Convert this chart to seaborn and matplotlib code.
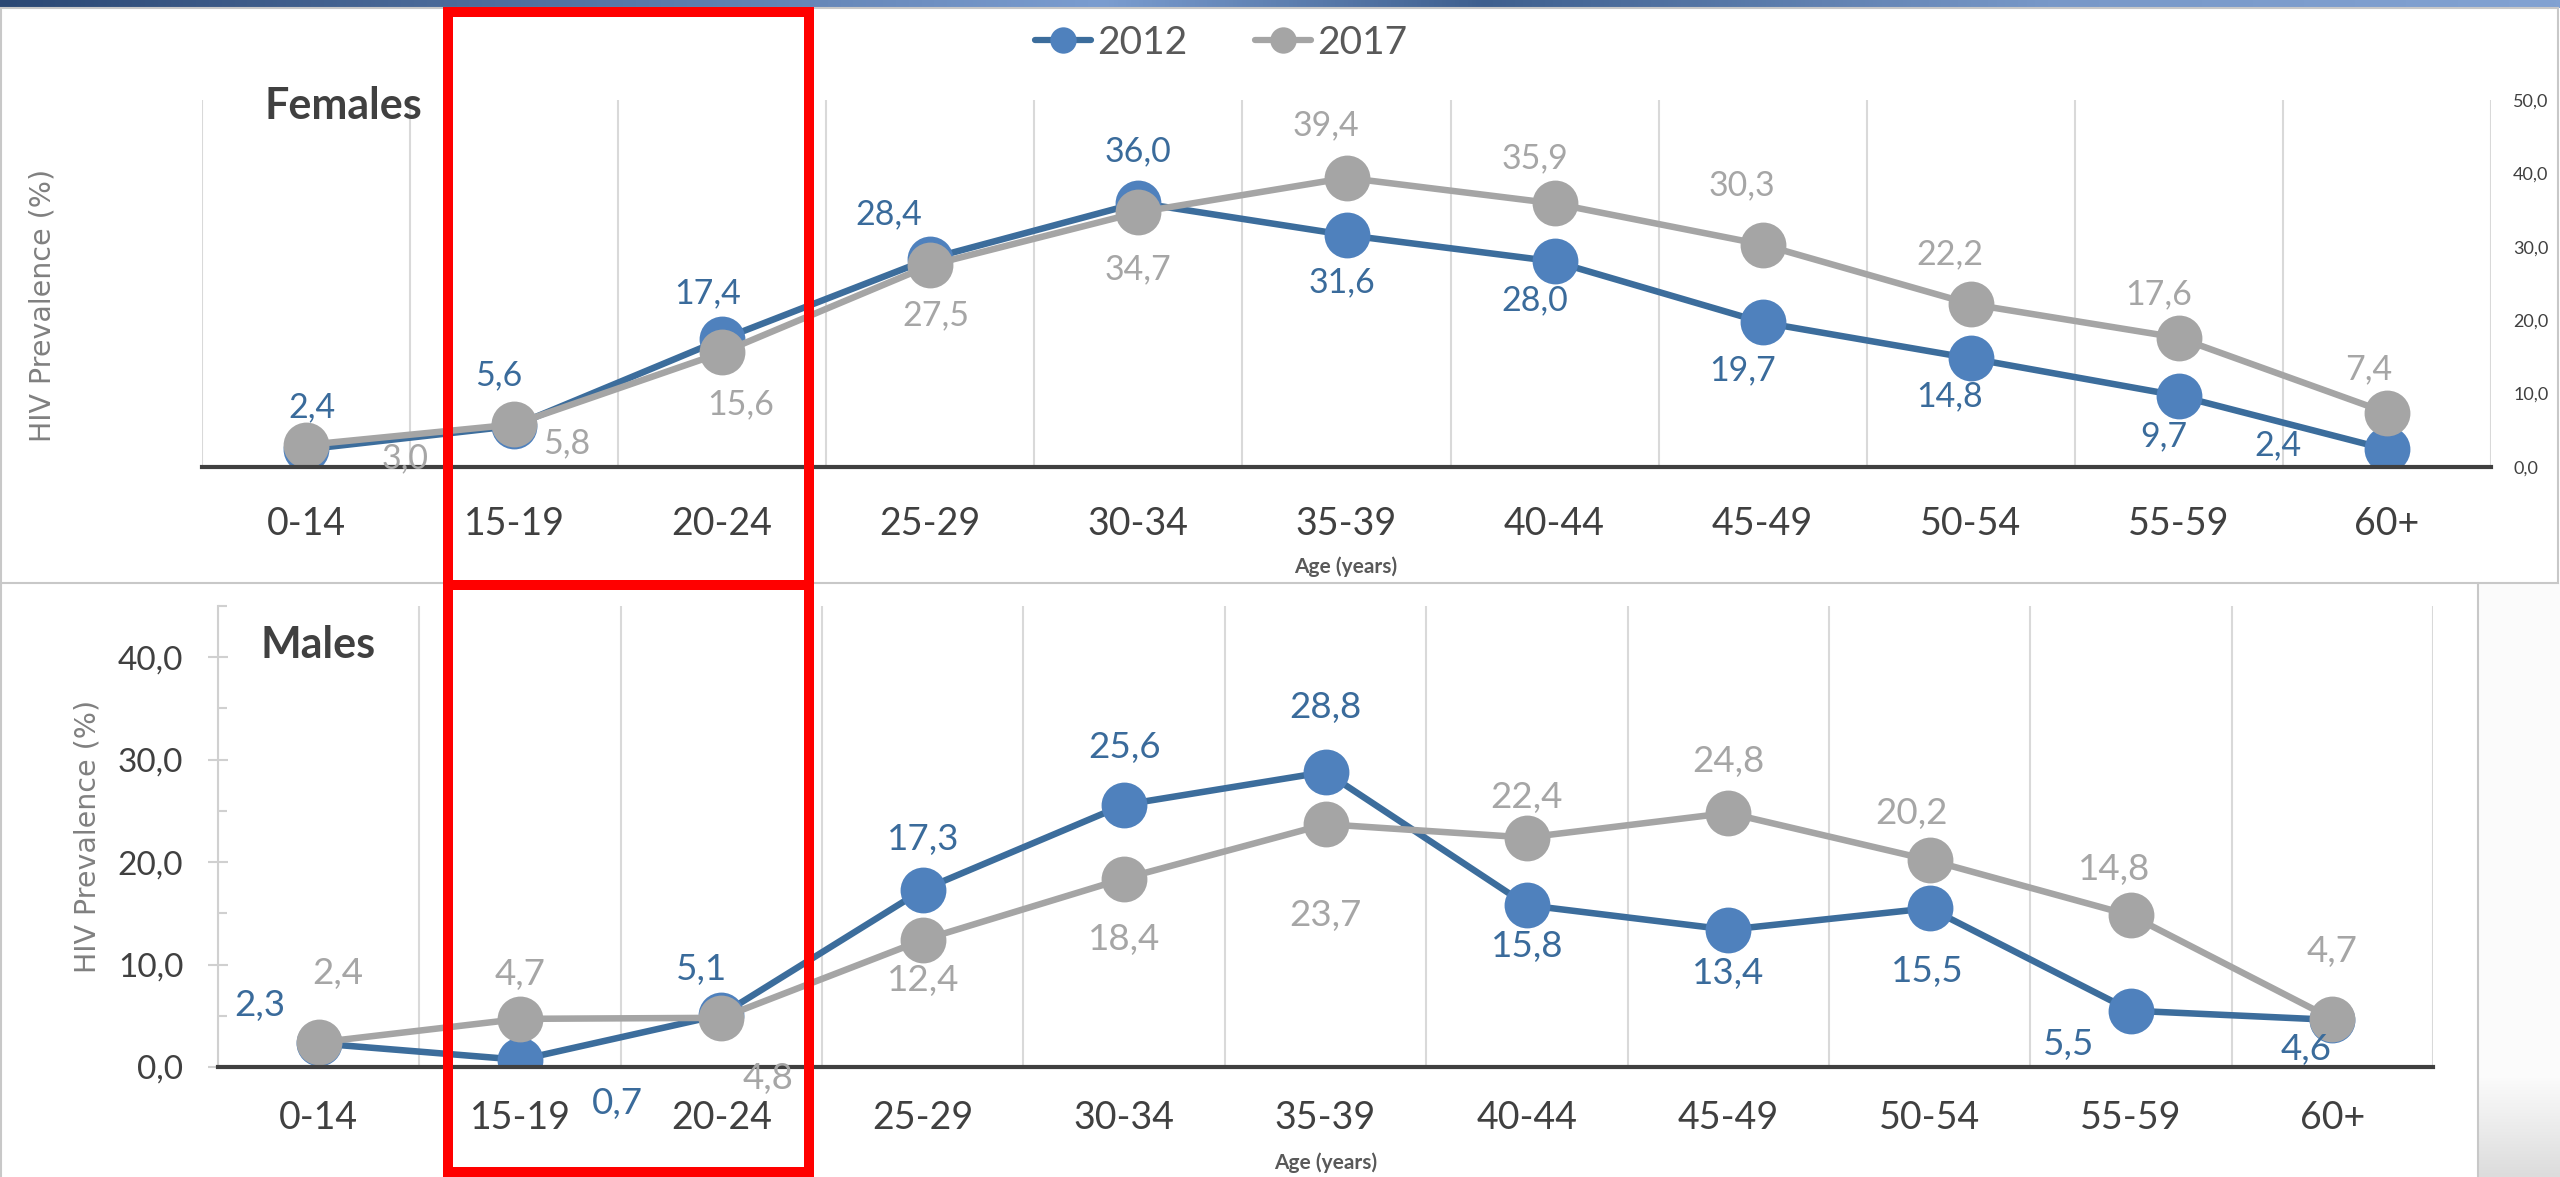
import numpy as np
import pandas as pd
import matplotlib
matplotlib.use("Agg")
import matplotlib.pyplot as plt
import seaborn as sns
from matplotlib.patches import Rectangle
from matplotlib.lines import Line2D
from matplotlib.ticker import FuncFormatter, MultipleLocator, FixedLocator

# data
ages = ["0-14", "15-19", "20-24", "25-29", "30-34", "35-39",
        "40-44", "45-49", "50-54", "55-59", "60+"]
years = ["2012", "2017"]
fem_2012 = [2.4, 5.6, 17.4, 28.4, 36.0, 31.6, 28.0, 19.7, 14.8, 9.7, 2.4]
fem_2017 = [3.0, 5.8, 15.6, 27.5, 34.7, 39.4, 35.9, 30.3, 22.2, 17.6, 7.4]
male_2012 = [2.3, 0.7, 5.1, 17.3, 25.6, 28.8, 15.8, 13.4, 15.5, 5.5, 4.6]
male_2017 = [2.4, 4.7, 4.8, 12.4, 18.4, 23.7, 22.4, 24.8, 20.2, 14.8, 4.7]

# where each data label sits relative to its marker (pixels, up = +)
fem_off_2012 = [(6, 42), (-15, 51), (-15, 46), (-42, 44), (0, 51), (-5, -47),
                (-20, -39), (-20, -48), (-21, -38), (-15, -40), (-109, 4)]
fem_off_2017 = [(99, -13), (53, -19), (18, -52), (6, -50), (0, -57), (-21, 53),
                (-20, 45), (-21, 59), (-21, 50), (-20, 44), (-18, 43)]
male_off_2012 = [(-59, 38), (97, -44), (-20, 45), (0, 50), (0, 57), (0, 64),
                 (0, -41), (0, -44), (-2, -63), (-62, -34), (-26, -30)]
male_off_2017 = [(19, 69), (0, 44), (47, -61), (0, -41), (0, -61), (0, -91),
                 (0, 40), (0, 51), (-18, 47), (-17, 46), (0, 67)]

sns.set_theme(style="white")
plt.rcParams["font.family"] = ["Lato", "DejaVu Sans"]

BLUE_LINE = "#3c6d9c"
BLUE_DOT = "#4f81bd"
GRAY = "#a5a5a5"
BLUE_TXT = "#3a6b9b"
GRAY_TXT = "#a6a6a6"
TXT = "#404040"
GRID = "#d9d9d9"

W, H = 2560, 1177
fig = plt.figure(figsize=(25.6, 11.77), dpi=100)
fig.patch.set_facecolor("white")


def fx(px):
    return px / W


def fy(py):
    return 1 - py / H


def comma(v, pos=None):
    return f"{v:.1f}".replace(".", ",")


def draw_panel(ax, v12, v17, off12, off17, lab_size):
    df = pd.DataFrame({
        "age": ages * 2,
        "year": [years[0]] * len(ages) + [years[1]] * len(ages),
        "value": v12 + v17,
    })
    sns.lineplot(data=df, x="age", y="value", hue="year", hue_order=years,
                 palette=[BLUE_LINE, GRAY], marker="o", markersize=33,
                 markeredgewidth=0, linewidth=4.7, sort=False,
                 errorbar=None, legend=False, ax=ax)
    for line, face in zip(ax.lines, [BLUE_DOT, GRAY]):
        line.set_markerfacecolor(face)
        line.set_markeredgecolor(face)
    for vals, offs, col in [(v12, off12, BLUE_TXT), (v17, off17, GRAY_TXT)]:
        for a, v, (dx, dy) in zip(ages, vals, offs):
            ax.annotate(comma(v), (a, v), xytext=(dx, dy),
                        textcoords="offset pixels", ha="center", va="center",
                        fontsize=lab_size, color=col, zorder=5)
    ax.set_xlim(-0.5, len(ages) - 0.5)
    ax.xaxis.set_minor_locator(FixedLocator(np.arange(-0.5, len(ages), 1)))
    ax.grid(False)
    ax.grid(axis="x", which="minor", color=GRID, lw=1.5)
    ax.set_xlabel("")
    ax.set_ylabel("")
    ax.set_facecolor("none")
    for s in ["top", "right", "left"]:
        ax.spines[s].set_visible(False)
    ax.spines["bottom"].set_color(TXT)
    ax.spines["bottom"].set_linewidth(3)
    ax.yaxis.set_major_formatter(FuncFormatter(comma))


# ---- background decoration: header strip, frames ----
ax_h = fig.add_axes([0, fy(8), 1, 8 / H])
xs = np.linspace(0, 1, 600)
stops = [0, 0.43, 0.58, 0.8, 1.0]
cols = np.array([[43, 72, 116], [123, 157, 208], [62, 95, 142],
                 [120, 152, 200], [130, 162, 210]]) / 255
grad = np.stack([np.interp(xs, stops, cols[:, k]) for k in range(3)], axis=-1)
ax_h.imshow(grad[None, :, :], aspect="auto", extent=(0, 1, 0, 1))
ax_h.axis("off")

fig.add_artist(Rectangle((fx(2478), 0), 1 - fx(2478), fy(583), transform=fig.transFigure,
                         facecolor="#fbfbfb", edgecolor="none", zorder=-2))
ax_g = fig.add_axes([fx(2479), 0, 1 - fx(2479), 100 / H], zorder=-1)
vgrad = np.linspace(0, 1, 100)[:, None]
ax_g.imshow(vgrad, aspect="auto", cmap=sns.blend_palette(["#dcdcdc", "#fbfbfb"], as_cmap=True),
            extent=(0, 1, 0, 1), origin="lower")
ax_g.axis("off")

frame = "#c8c8c8"
fig.add_artist(Rectangle((fx(1), fy(583)), fx(2558) - fx(1), (583 - 8) / H,
                         transform=fig.transFigure, fill=False, ec=frame, lw=1.5))
fig.add_artist(Line2D([fx(1), fx(1)], [0, fy(583)], transform=fig.transFigure, color=frame, lw=1.5))
fig.add_artist(Line2D([fx(2478), fx(2478)], [0, fy(583)], transform=fig.transFigure, color=frame, lw=1.5))

# ---- Females panel ----
ax_f = fig.add_axes([fx(202), fy(467), fx(2491) - fx(202), (467 - 100) / H])
draw_panel(ax_f, fem_2012, fem_2017, fem_off_2012, fem_off_2017, 24.5)
ax_f.set_ylim(0, 50)
ax_f.yaxis.set_major_locator(MultipleLocator(10))
ax_f.yaxis.tick_right()
ax_f.tick_params(axis="y", length=0, labelsize=13, labelcolor=TXT, pad=16)
ax_f.tick_params(axis="x", which="both", length=0, labelsize=27, labelcolor=TXT, pad=28)

# ---- Males panel ----
ax_m = fig.add_axes([fx(218), fy(1067), fx(2433) - fx(218), (1067 - 606) / H])
draw_panel(ax_m, male_2012, male_2017, male_off_2012, male_off_2017, 26.5)
ax_m.set_ylim(0, 45)
ax_m.yaxis.set_major_locator(MultipleLocator(10))
ax_m.yaxis.set_minor_locator(MultipleLocator(5))
ax_m.spines["left"].set_visible(True)
ax_m.spines["left"].set_color("#d0d0d0")
ax_m.spines["left"].set_linewidth(1.5)
ax_m.tick_params(axis="y", which="major", left=True, direction="inout", length=14,
                 width=1.5, color="#d0d0d0", labelsize=24, labelcolor=TXT, pad=18)
ax_m.tick_params(axis="y", which="minor", left=True, direction="in", length=6.5,
                 width=1.5, color="#d0d0d0")
ax_m.tick_params(axis="x", which="both", length=0, labelsize=27, labelcolor=TXT, pad=24)

# ---- panel texts ----
fig.text(fx(265), fy(106), "Females", fontsize=31, fontweight="bold", color=TXT,
         ha="left", va="center")
fig.text(fx(261), fy(645), "Males", fontsize=31, fontweight="bold", color=TXT,
         ha="left", va="center")
for x, y in [(43, 305), (88, 836)]:
    fig.text(fx(x), fy(y), "HIV Prevalence (%)", rotation=90, fontsize=20.5,
             color="#808080", ha="center", va="center", family="DejaVu Sans")
for x, y in [(1346, 567), (1326, 1163)]:
    fig.text(fx(x), fy(y), "Age (years)", fontsize=15, fontweight="bold",
             color="#595959", ha="center", va="center")

# ---- legend ----
handles = [Line2D([], [], color=BLUE_LINE, lw=4.5, marker="o", markersize=19,
                  markerfacecolor=BLUE_DOT, markeredgewidth=0),
           Line2D([], [], color=GRAY, lw=4.5, marker="o", markersize=19,
                  markerfacecolor=GRAY, markeredgewidth=0)]
fig.legend(handles, years, loc="center", bbox_to_anchor=(fx(1221), fy(43)), ncol=2,
           frameon=False, fontsize=28, labelcolor="#595959", handlelength=1.45,
           handletextpad=0.15, columnspacing=1.75, borderaxespad=0, borderpad=0)

# ---- red highlight box over 15-19 and 20-24 ----
red_kw = dict(transform=fig.transFigure, fill=False, ec="#ff0000", lw=7.2,
              joinstyle="miter", zorder=20)
fig.add_artist(Rectangle((fx(448), fy(585)), fx(809) - fx(448), (585 - 12) / H, **red_kw))
fig.add_artist(Rectangle((fx(448), fy(1172)), fx(809) - fx(448), (1172 - 585) / H, **red_kw))

fig.savefig("out.png", dpi=100)
